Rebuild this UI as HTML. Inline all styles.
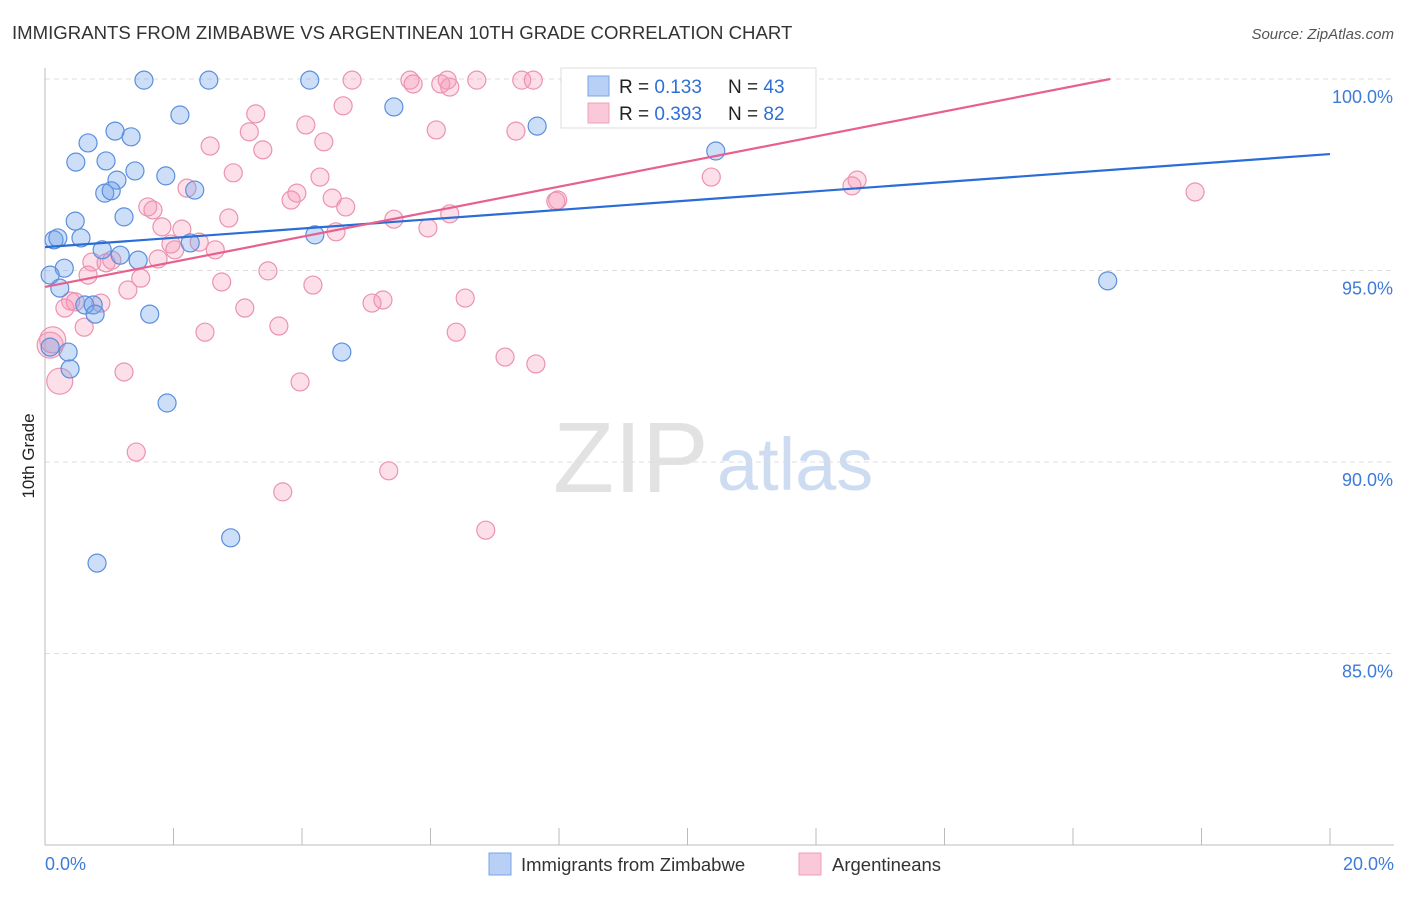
<!DOCTYPE html>
<html><head><meta charset="utf-8"><style>
body{margin:0;background:#fff;font-family:"Liberation Sans",sans-serif}
svg text{font-family:"Liberation Sans",sans-serif}
</style></head><body>
<svg width="1406" height="892" viewBox="0 0 1406 892">
<text x="12" y="39" font-size="18.6" fill="#333">IMMIGRANTS FROM ZIMBABWE VS ARGENTINEAN 10TH GRADE CORRELATION CHART</text>
<text x="1394" y="39" font-size="15" fill="#555" text-anchor="end" font-style="italic">Source: ZipAtlas.com</text>
<g>
<text x="553" y="492" font-size="100" fill="#e2e2e2" font-family="Liberation Serif,serif">ZIP</text>
<text x="717" y="490" font-size="74" fill="#cddcf1">atlas</text>
</g>
<g id="grid"></g>
<g id="axes"></g>
<g id="marks"></g>
<text transform="translate(34,456) rotate(-90)" font-size="17" fill="#222" text-anchor="middle">10th Grade</text>
<g>
<rect x="561" y="68" width="255" height="60" fill="#fff" stroke="#ddd"/>
<rect x="588" y="76" width="21" height="20" fill="#b8d0f5" stroke="#7aa5e6"/>
<rect x="588" y="103" width="21" height="20" fill="#fac8d8" stroke="#eea0b8"/>
<text x="619" y="93" font-size="19" fill="#222">R = <tspan fill="#2f6fd6"> 0.133</tspan><tspan x="728">N = </tspan><tspan fill="#2f6fd6">43</tspan></text>
<text x="619" y="120" font-size="19" fill="#222">R = <tspan fill="#2f6fd6">0.393</tspan><tspan x="728">N = </tspan><tspan fill="#2f6fd6">82</tspan></text>
</g>
<g>
<rect x="489" y="853" width="22" height="22" fill="#b8d0f5" stroke="#7aa5e6"/>
<text x="521" y="871" font-size="18.5" fill="#333">Immigrants from Zimbabwe</text>
<rect x="799" y="853" width="22" height="22" fill="#fac8d8" stroke="#eea0b8"/>
<text x="832" y="871" font-size="18.5" fill="#333">Argentineans</text>
</g>
</svg>
<script>
const blueX=[1.54,2.55,4.12,5.43,2.10,7.66,0.67,1.09,1.34,0.48,0.95,1.40,1.12,1.88,0.93,1.03,2.33,0.47,1.23,0.14,0.20,0.56,4.20,0.89,1.17,1.45,2.26,0.30,0.08,0.23,0.62,0.75,0.78,1.63,0.36,4.62,0.39,0.08,1.90,2.89,0.81,10.44,16.54];
const blueY=[99.97,99.97,99.97,99.27,99.06,98.77,98.33,98.64,98.49,97.83,97.86,97.60,97.36,97.47,97.02,97.08,97.10,96.29,96.40,95.80,95.85,95.85,95.93,95.54,95.40,95.27,95.72,95.06,94.88,94.54,94.10,94.10,93.86,93.86,92.87,92.87,92.43,93.00,91.54,88.02,87.36,98.12,94.73];
const pinkX=[5.68,6.26,6.72,7.42,7.60,4.78,8.17,9.45,9.68,5.73,6.16,4.64,3.28,4.06,3.18,6.09,7.33,4.34,2.57,3.39,2.93,4.28,10.37,12.64,12.56,17.90,2.21,3.83,4.47,1.60,1.68,4.68,7.95,2.86,5.43,6.30,1.82,2.13,5.96,4.53,1.96,2.40,2.02,2.65,1.76,0.73,0.95,1.04,3.47,0.67,1.49,2.75,4.17,1.29,0.40,0.47,0.87,3.11,5.09,5.26,6.54,0.31,0.61,2.49,3.64,6.40,0.12,0.08,7.16,7.64,1.23,3.97,0.23,1.42,5.35,3.70,6.86,3.92,6.30,7.98];
const pinkY=[99.97,99.97,99.97,99.97,99.97,99.97,99.97,99.97,99.97,99.87,99.87,99.30,99.09,98.80,98.62,98.67,98.64,98.36,98.25,98.15,97.55,97.44,97.44,97.36,97.21,97.05,97.15,96.84,96.89,96.66,96.58,96.66,96.81,96.37,96.34,96.48,96.14,96.08,96.11,96.01,95.69,95.74,95.54,95.54,95.30,95.22,95.20,95.27,94.99,94.88,94.80,94.70,94.62,94.49,94.20,94.18,94.15,94.02,94.15,94.23,94.28,94.02,93.52,93.39,93.55,93.39,93.19,93.05,92.74,92.56,92.35,92.09,92.11,90.26,89.77,89.22,88.22,97.02,99.79,96.84];
const pinkBig=[66,67,72];
const yTicks=[100,95,90,85];
const yTickLabels=["100.0%","95.0%","90.0%","85.0%"];
const xTicks=[0,2,4,6,8,10,12,14,16,18,20];
const xTickLabels=["0.0%","20.0%"];
const blueTrend=[95.61,0.1215];
const pinkTrend=[94.57,0.3275];
const X0=45,X1=1330,Y0=845,Y1=79;
const sx=v=>X0+(v/20)*(X1-X0);
const sy=v=>Y0-((v-80)/20)*(Y0-Y1);
const NS="http://www.w3.org/2000/svg";
function mk(t,a,p){const e=document.createElementNS(NS,t);for(const k in a)e.setAttribute(k,a[k]);p.appendChild(e);return e;}
const grid=document.getElementById('grid'),axes=document.getElementById('axes'),marks=document.getElementById('marks');
yTicks.forEach((v,i)=>{
 const l=mk('line',{x1:X0,x2:1394,y1:sy(v),y2:sy(v),stroke:'#ddd','stroke-dasharray':'5,4'},grid);
 
 
 const t=mk('text',{x:1393,y:sy(v)+24,'font-size':18,fill:'#3d7bd8','text-anchor':'end'},axes);
 t.textContent=yTickLabels[i];
 
 
});
const ax=mk('line',{x1:X0,x2:1394,y1:Y0,y2:Y0,stroke:'#bbb'},axes);


const ay=mk('line',{x1:X0,x2:X0,y1:68,y2:Y0,stroke:'#bbb'},axes);


xTicks.forEach(v=>{
 const l=mk('line',{x1:sx(v),x2:sx(v),y1:828,y2:Y0,stroke:'#bbb'},axes);
 
 
});
const xl0=mk('text',{x:45,y:870,'font-size':18,fill:'#3d7bd8'},axes);xl0.textContent=xTickLabels[0];


const xl1=mk('text',{x:1394,y:870,'font-size':18,fill:'#3d7bd8','text-anchor':'end'},axes);xl1.textContent=xTickLabels[1];


pinkX.forEach((x,i)=>{
 const r=pinkBig.includes(i)?13:9;
 const c=mk('circle',{cx:sx(x),cy:sy(pinkY[i]),r:r,fill:'rgba(244,150,180,0.3)',stroke:'#eb93b0','stroke-width':1.2},marks);
 
 
});
blueX.forEach((x,i)=>{
 const c=mk('circle',{cx:sx(x),cy:sy(blueY[i]),r:9,fill:'rgba(110,160,235,0.35)',stroke:'#5b8fdc','stroke-width':1.2},marks);
 
 
});
const bl=mk('line',{x1:sx(0),y1:sy(blueTrend[0]),x2:sx(20),y2:sy(blueTrend[0]+20*blueTrend[1]),stroke:'#2a6dd6','stroke-width':2.2},marks);


const pxEnd=Math.min(20,(100-pinkTrend[0])/pinkTrend[1]);
const pl=mk('line',{x1:sx(0),y1:sy(pinkTrend[0]),x2:sx(pxEnd),y2:sy(pinkTrend[0]+pxEnd*pinkTrend[1]),stroke:'#e8608f','stroke-width':2.2},marks);


</script>
</body></html>
